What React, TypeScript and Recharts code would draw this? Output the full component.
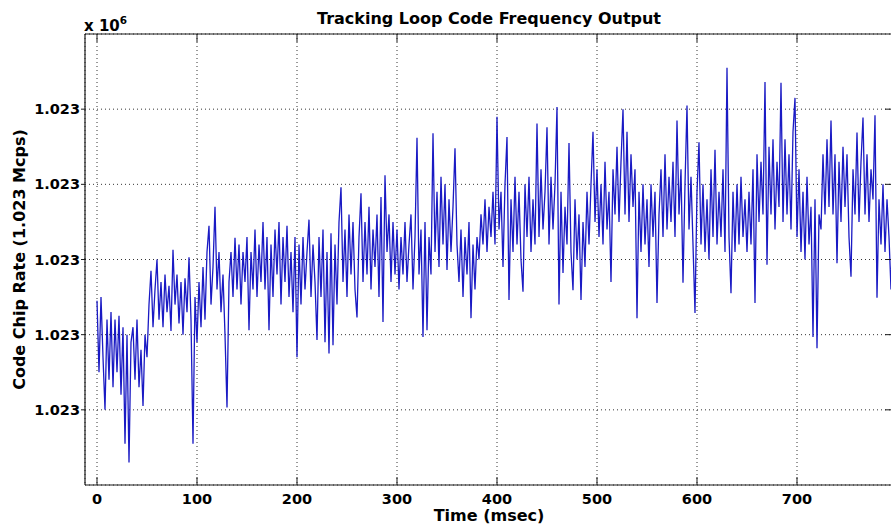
import { LineChart, Line, XAxis, YAxis, CartesianGrid } from 'recharts'

// ─── Data ────────────────────────────────────────────────────────────────────

// one sample every 2 ms, starting at t = 0
const SAMPLE_STEP_MS = 2

// code frequency deviation, in grid steps around 1.023e6 chips/s
const codeFreqDev = [
  // 0 - 48 ms
  -0.55, -1.5, -0.5, -1.3, -2.0, -0.8, -1.6, -0.7, -1.7, -0.8, -1.5, -0.75, -1.8,
  -0.9, -2.45, -1.0, -2.7, -1.1, -0.9, -1.6, -0.8, -1.7, -1.2, -1.95, -1.0,
  // 50 - 98 ms
  -1.3, -0.6, -0.15, -0.9, -0.4, 0.0, -0.8, -0.3, -0.9, -0.2, -0.7, -0.35, -0.95,
  0.13, -0.6, -0.2, -0.85, -0.3, -1.0, -0.25, -0.7, 0.03, -0.8, -2.45, -0.5,
  // 100 - 148 ms
  -1.1, -0.3, -0.9, -0.1, -0.8, 0.1, 0.45, -0.6, -0.1, 0.7, -0.4, 0.1, -0.7,
  -0.2, -1.0, -1.97, -0.3, 0.1, -0.5, 0.29, -0.4, 0.2, -0.6, 0.1, -0.3,
  // 150 - 198 ms
  0.3, -0.94, 0.1, -0.4, 0.4, -0.5, 0.2, -0.3, 0.5, -0.4, 0.3, -0.94, 0.2,
  -0.5, 0.4, -0.2, 0.5, -0.6, 0.3, -0.3, 0.45, -0.5, 0.1, -0.7, 0.3,
  // 200 - 248 ms
  -1.3, 0.2, -0.6, 0.3, -0.4, 0.1, 0.53, -0.5, 0.2, -0.3, -1.07, 0.3, -0.5,
  0.4, -1.1, 0.1, -1.25, 0.35, -1.14, 0.2, -0.6, 0.5, 0.96, -0.3, 0.4,
  // 250 - 298 ms
  -0.5, 0.6, -0.2, 0.5, -0.4, -0.77, 0.3, 0.88, -0.3, 0.5, -0.2, 0.7, -0.4,
  0.4, -0.1, 0.6, -0.5, 0.83, -0.83, 1.12, 0.1, 0.6, -0.3, 0.5, -0.2,
  // 300 - 348 ms
  0.4, -0.4, 0.3, -0.2, 0.5, -0.3, 0.2, 0.6, -0.4, 0.3, 1.62, -0.2, 0.4,
  -1.03, 0.5, -0.94, 0.3, -0.2, 1.68, 0.1, 0.9, -0.1, 1.1, 0.2, 1.0,
  // 350 - 398 ms
  -0.14, 0.8, 0.1, 0.7, 1.48, 0.2, -0.3, 0.4, -0.5, 0.3, -0.2, 0.5, -0.78,
  0.2, -0.4, 0.3, 0.0, 0.6, 0.2, 0.8, 0.1, 0.7, 0.3, 0.9, 0.2,
  // 400 - 448 ms
  1.9, 0.4, 0.9, -0.1, 1.0, 1.63, -0.54, 0.8, 0.1, 1.1, 0.2, 0.9, 0.0,
  -0.43, 1.0, 0.3, 1.1, 0.1, 0.8, 0.2, 1.81, 0.3, 1.2, 0.4, 0.9,
  // 450 - 498 ms
  1.76, 0.2, 1.1, 0.4, 1.0, 2.03, -0.6, 0.9, -0.18, 0.7, 0.2, 1.55, 0.1,
  -0.41, 0.8, 0.0, 0.6, -0.54, 0.5, -0.1, 0.9, 0.2, 1.0, 1.7, 0.5,
  // 500 - 548 ms
  1.2, 0.3, 1.0, 0.2, 1.3, 0.4, 0.9, -0.3, 1.2, 0.6, 1.5, 0.5, 1.3,
  2.0, 0.6, 1.7, 0.5, 1.4, 0.7, 1.2, -0.78, 0.9, 0.1, 1.0, 0.2,
  // 550 - 598 ms
  0.8, -0.1, 1.0, 0.3, 0.9, -0.58, 0.6, 1.2, 0.3, 1.4, 0.4, 1.1, 0.5,
  1.3, 0.3, 1.85, 0.6, 1.2, -0.31, 1.0, 2.05, 0.4, 1.1, 0.2, -0.71,
  // 600 - 648 ms
  0.9, 1.56, 0.2, 1.0, 0.1, 0.8, 0.0, 1.2, 0.3, 1.46, 0.2, 0.9, 0.3,
  1.2, 0.1, 2.55, 0.3, -0.45, 0.9, 0.1, 1.0, 0.2, 1.1, 0.3, 0.8,
  // 650 - 698 ms
  0.1, 0.9, 0.2, 1.2, -0.58, 1.4, 0.5, 1.3, 0.6, 2.36, -0.07, 1.5, 0.6,
  1.6, 0.4, 1.3, 0.7, 2.35, 0.5, 1.6, 0.6, 1.4, 0.4, 1.7, 2.15,
  // 700 - 748 ms
  0.3, 1.2, 0.1, 0.9, 0.0, 1.1, 0.2, 0.7, -1.03, 0.8, -1.18, 0.6, 0.4,
  1.4, 0.6, 1.6, 0.7, 1.85, 0.6, 1.4, -0.05, 1.3, 0.5, 1.5, 0.7,
  // 750 - 796 ms
  1.4, 0.3, -0.23, 1.2, 0.6, 1.69, 0.5, 1.3, 1.89, 0.6, 1.4, 0.5, 1.2,
  0.8, 1.92, -0.51, 0.8, 0.2, 1.0, 0.1, 0.8, 0.3, -0.4, 0.6,
]

const X_TICKS = [0, 100, 200, 300, 400, 500, 600, 700]
const X_DOMAIN = [-12, 796]
const Y_TICKS = [-2, -1, 0, 1, 2]
const Y_DOMAIN = [-3, 3]
const Y_TICK_LABEL = '1.023'

const TITLE = 'Tracking Loop Code Frequency Output'
const X_LABEL = 'Time (msec)'
const Y_LABEL = 'Code Chip Rate (1.023 Mcps)'

const chartData = codeFreqDev.map((dev, i) => ({ t: i * SAMPLE_STEP_MS, dev }))

// ─── Styles ──────────────────────────────────────────────────────────────────

const FONT = '"DejaVu Sans", sans-serif'
const AXIS_COLOR = '#1a1a1a'
const LINE_COLOR = '#1a1ac4'
const TICK_LEN = 8
const BOTTOM_GAP = 5

// matlab-style ticks that point into the plot box
function BottomTick({ x, y, payload }: any) {
  const axisY = y - BOTTOM_GAP
  return (
    <g>
      <line x1={x} x2={x} y1={axisY} y2={axisY - TICK_LEN} stroke={AXIS_COLOR} />
      <text
        x={x}
        y={y}
        dy={14}
        textAnchor="middle"
        fontFamily={FONT}
        fontWeight="bold"
        fontSize={14.5}
        fill="#000"
      >
        {payload.value}
      </text>
    </g>
  )
}

function TopTick({ x, y }: any) {
  return <line x1={x} x2={x} y1={y} y2={y + TICK_LEN} stroke={AXIS_COLOR} />
}

function RightTick({ x, y }: any) {
  return <line x1={x} x2={x - TICK_LEN} y1={y} y2={y} stroke={AXIS_COLOR} />
}

export default function App() {
  return (
    <div
      style={{
        position: 'absolute',
        left: 0,
        top: 0,
        width: 891,
        height: 528,
        overflow: 'hidden',
        background: '#fff',
      }}
    >
      <div
        style={{
          position: 'absolute',
          left: 84,
          top: 13,
          fontFamily: FONT,
          fontWeight: 'bold',
          fontSize: 15,
          lineHeight: '16px',
          color: '#000',
          whiteSpace: 'nowrap',
        }}
      >
        x 10<sup style={{ fontSize: 10.5, position: 'relative', top: -1 }}>6</sup>
      </div>
      <LineChart
        width={894}
        height={528}
        data={chartData}
        margin={{ top: 33, right: 0, bottom: 0, left: 0 }}
        style={{ position: 'absolute', left: 0, top: 0 }}
      >
        <CartesianGrid stroke="#000" strokeDasharray="1 3" strokeWidth={0.8} />
        <XAxis
          dataKey="t"
          type="number"
          domain={X_DOMAIN}
          ticks={X_TICKS}
          allowDataOverflow
          height={43}
          tickSize={0}
          tickMargin={BOTTOM_GAP}
          tickLine={false}
          tick={<BottomTick />}
          axisLine={{ stroke: AXIS_COLOR, strokeWidth: 1.2 }}
          label={{
            value: X_LABEL,
            position: 'insideBottom',
            offset: 7,
            style: { fontFamily: FONT, fontWeight: 'bold', fontSize: 16, fill: '#000' },
          }}
        />
        <XAxis
          xAxisId="top"
          orientation="top"
          dataKey="t"
          type="number"
          domain={X_DOMAIN}
          ticks={X_TICKS}
          allowDataOverflow
          height={1}
          tickSize={0}
          tickMargin={0}
          tickLine={false}
          tick={<TopTick />}
          axisLine={{ stroke: AXIS_COLOR, strokeWidth: 1.2 }}
          label={{
            value: TITLE,
            position: 'top',
            offset: 9,
            style: { fontFamily: FONT, fontWeight: 'bold', fontSize: 16, fill: '#000' },
          }}
        />
        <YAxis
          type="number"
          domain={Y_DOMAIN}
          ticks={Y_TICKS}
          allowDataOverflow
          width={85}
          tickSize={4}
          tickMargin={1}
          tickFormatter={() => Y_TICK_LABEL}
          tick={{ fontFamily: FONT, fontWeight: 'bold', fontSize: 14.5, fill: '#000' }}
          tickLine={{ stroke: AXIS_COLOR }}
          axisLine={{ stroke: AXIS_COLOR, strokeWidth: 1.2 }}
          label={{
            value: Y_LABEL,
            angle: -90,
            position: 'insideLeft',
            offset: 19,
            style: {
              fontFamily: FONT,
              fontWeight: 'bold',
              fontSize: 16,
              fill: '#000',
              textAnchor: 'middle',
            },
          }}
        />
        <YAxis
          yAxisId="right"
          orientation="right"
          type="number"
          domain={Y_DOMAIN}
          ticks={Y_TICKS}
          allowDataOverflow
          width={1}
          tickSize={0}
          tickMargin={0}
          tickLine={false}
          tick={<RightTick />}
          axisLine={{ stroke: AXIS_COLOR, strokeWidth: 1.2 }}
        />
        <Line
          type="linear"
          dataKey="dev"
          stroke={LINE_COLOR}
          strokeWidth={1.3}
          dot={false}
          isAnimationActive={false}
        />
      </LineChart>
    </div>
  )
}
